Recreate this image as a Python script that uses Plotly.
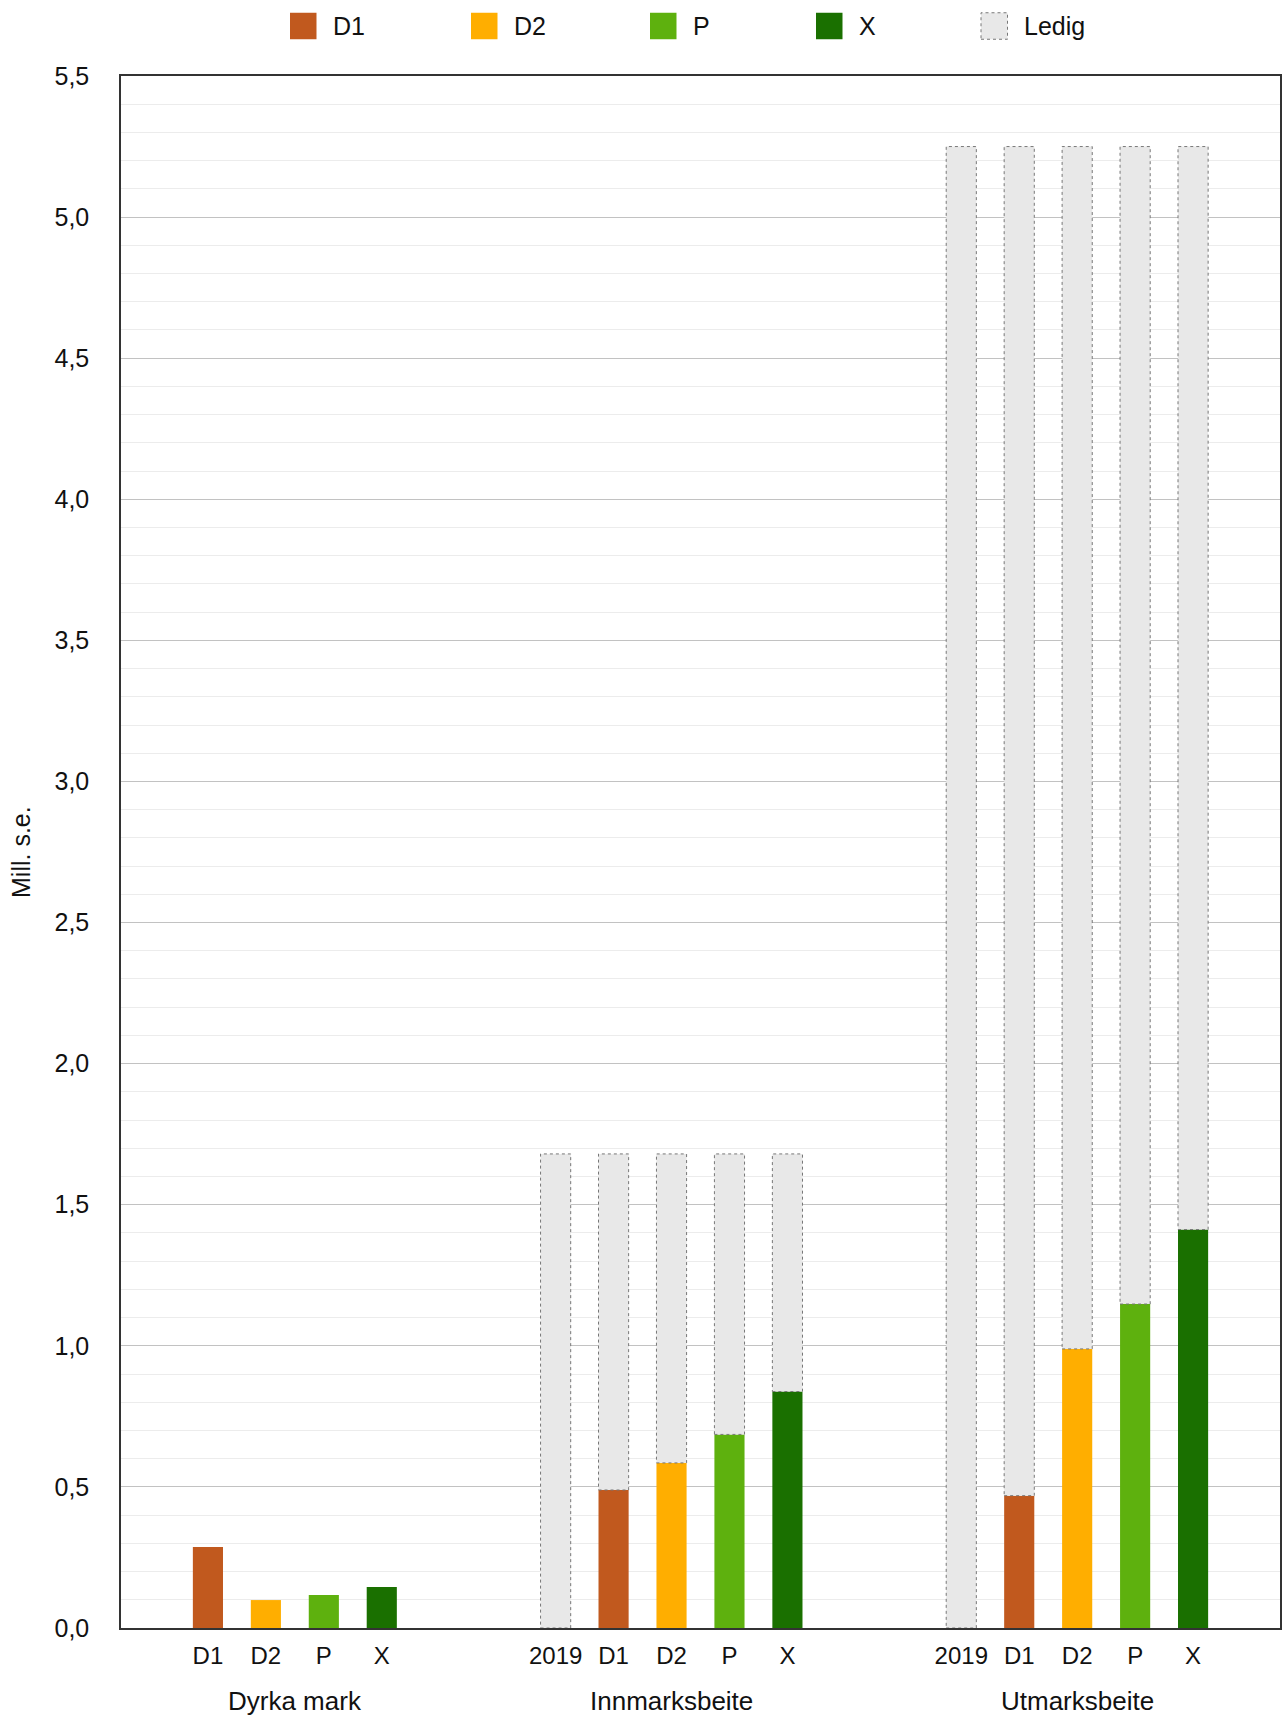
import plotly.graph_objects as go

# ---- data ----
groups = ["Dyrka mark", "Innmarksbeite", "Utmarksbeite"]
scenarios = ["2019", "D1", "D2", "P", "X"]
# used area (Mill. s.e.) per scenario; None = no bar
dyrka_used = [None, 0.287, 0.099, 0.117, 0.145]
innmark_used = [0.0, 0.489, 0.585, 0.686, 0.838]
utmark_used = [0.0, 0.469, 0.989, 1.148, 1.412]
# total available area per group (None = no free-area bar)
group_total = [None, 1.68, 5.25]

series = ["D1", "D2", "P", "X"]
legend_names = series + ["Ledig"]
y_title = "Mill. s.e."

# ---- style ----
colors = {"D1": "#c1591e", "D2": "#ffae00", "P": "#5eb10e", "X": "#1a7000"}
ledig_fill = "#e8e8e8"
ledig_line = "#777777"
font_family = "Liberation Sans, Arial, Helvetica, sans-serif"
FS = 24
W, H = 1282, 1718
L, R, T, B = 121, 1280, 76, 1628          # plot-area pixel box
group_start = [0, 7, 14]                   # slot index of each group's first scenario
bar_w = 0.52
legend_left_px = [290, 471, 650, 816, 981]
legend_sq = 26.5
legend_cy = 26


def px_x(px):
    return (px - L) / (R - L)


def px_y(py):
    return (B - py) / (B - T)


used = [dyrka_used, innmark_used, utmark_used]

fig = go.Figure()

# colored bars
for s in series:
    si = scenarios.index(s)
    xs, ys = [], []
    for g in range(len(groups)):
        v = used[g][si]
        if v is not None:
            xs.append(group_start[g] + si)
            ys.append(v)
    fig.add_trace(go.Bar(name=s, x=xs, y=ys, width=bar_w, showlegend=False,
                         marker=dict(color=colors[s], line=dict(width=0))))

# free area (Ledig)
lx, ly, lb = [], [], []
for g in range(len(groups)):
    if group_total[g] is None:
        continue
    for si in range(len(scenarios)):
        u = used[g][si]
        if u is None:
            continue
        lx.append(group_start[g] + si)
        lb.append(u)
        ly.append(group_total[g] - u)
fig.add_trace(go.Bar(name="Ledig", x=lx, y=ly, base=lb, width=bar_w, showlegend=False,
                     marker=dict(color=ledig_fill, line=dict(width=0))))

# dotted outline for Ledig bars
ox, oy = [], []
for x, b, h in zip(lx, lb, ly):
    x0, x1 = x - bar_w / 2, x + bar_w / 2
    ox += [x0, x1, x1, x0, x0, None]
    oy += [b, b, b + h, b + h, b, None]
fig.add_trace(go.Scatter(x=ox, y=oy, mode="lines", showlegend=False, hoverinfo="skip",
                         line=dict(color=ledig_line, width=1, dash="dot")))

# tick positions / labels
tickvals, ticktext = [], []
for g in range(len(groups)):
    for si in range(len(scenarios)):
        if used[g][si] is not None:
            tickvals.append(group_start[g] + si)
            ticktext.append(scenarios[si])

# group labels
for g, name in enumerate(groups):
    present = [group_start[g] + si for si in range(len(scenarios)) if used[g][si] is not None]
    cx = (min(present) + max(present)) / 2
    fig.add_annotation(x=cx, xref="x", y=px_y(1701), yref="paper", text=name,
                       showarrow=False, yanchor="middle", xanchor="center",
                       font=dict(size=26, color="#111"))

# y-axis title
fig.add_annotation(x=px_x(21), xref="paper", y=0.5, yref="paper", text=y_title,
                   textangle=-90, showarrow=False, xanchor="center", yanchor="middle",
                   font=dict(size=25, color="#111"))

# manual legend (large square swatches)
shapes = []
for name, lp in zip(legend_names, legend_left_px):
    if name == "Ledig":
        fill, line = ledig_fill, dict(color=ledig_line, width=1, dash="dot")
    else:
        fill, line = colors[name], dict(width=0)
    shapes.append(dict(type="rect", xref="paper", yref="paper",
                       x0=px_x(lp), x1=px_x(lp + legend_sq),
                       y0=px_y(legend_cy + legend_sq / 2), y1=px_y(legend_cy - legend_sq / 2),
                       fillcolor=fill, line=line))
    fig.add_annotation(x=px_x(lp + 41), xref="paper", y=px_y(legend_cy), yref="paper",
                       text=name, showarrow=False, xanchor="left", yanchor="middle",
                       font=dict(size=25, color="#111"))

fig.update_layout(
    width=W, height=H,
    paper_bgcolor="white", plot_bgcolor="white",
    margin=dict(l=L, r=W - R, t=T, b=H - B, autoexpand=False),
    barmode="overlay",
    showlegend=False,
    separators=", ",
    shapes=shapes,
    font=dict(family=font_family, size=FS, color="#111"),
    xaxis=dict(range=[-0.5, 19.5], tickvals=tickvals, ticktext=ticktext,
               showgrid=False, zeroline=False, showline=True, mirror=True,
               linecolor="#333", linewidth=1.5, ticks="", ticklabelstandoff=5,
               automargin=False, tickfont=dict(size=FS)),
    yaxis=dict(range=[0, 5.5], dtick=0.5, tickformat=".1f",
               showgrid=True, gridcolor="#c2c2c2", gridwidth=1,
               minor=dict(dtick=0.1, showgrid=True, gridcolor="#ececec", gridwidth=1),
               zeroline=False, showline=True, mirror=True,
               linecolor="#333", linewidth=1.5, ticks="", ticklabelstandoff=25,
               automargin=False, tickfont=dict(size=25)),
)

fig.write_html("out.html",
               config={"displayModeBar": False},
               post_script="document.body.style.margin='0';"
                           "document.documentElement.style.overflow='hidden';")
